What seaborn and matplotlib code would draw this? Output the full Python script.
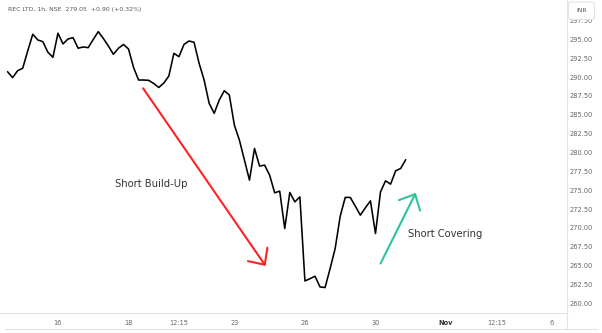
import numpy as np
import pandas as pd
import matplotlib
matplotlib.use("Agg")
import matplotlib.pyplot as plt
import seaborn as sns
from matplotlib.patches import FancyBboxPatch
from matplotlib.lines import Line2D

# ---------------- data (hourly bars, index 0 = 16 Oct 09:15) ----------------
bar_index = list(range(-10, 70))
close = [290.70, 289.91, 290.84, 291.15, 293.45, 295.66, 294.91, 294.68, 293.28, 292.61,
         295.80, 294.38, 295.04, 295.21, 293.81, 293.98, 293.89, 294.97, 296.01, 295.11,
         294.11, 293.01, 293.81, 294.31, 293.71, 291.26, 289.60, 289.60, 289.56, 289.14,
         288.61, 289.20, 290.13, 293.14, 292.69, 294.31, 294.77, 294.60, 291.82, 289.60,
         286.51, 285.19, 286.95, 288.18, 287.61, 283.63, 281.64, 278.99, 276.34, 280.54,
         278.20, 278.33, 277.00, 274.66, 274.88, 269.93, 274.71, 273.46, 274.12, 262.98,
         263.28, 263.61, 262.19, 262.11, 264.63, 267.28, 271.56, 274.05, 274.05, 272.89,
         271.70, 272.69, 273.59, 269.27, 274.79, 276.25, 275.81, 277.57, 277.89, 279.05]

xtick_pos = [0, 14, 24, 35, 49, 63, 77, 87, 98]
xtick_labels = ["16", "18", "12:15", "23", "26", "30", "Nov", "12:15", "6"]
ytick_values = [260.0, 262.5, 265.0, 267.5, 270.0, 272.5, 275.0, 277.5,
                280.0, 282.5, 285.0, 287.5, 290.0, 292.5, 295.0, 297.5]
title_text = "REC LTD, 1h, NSE  279.05  +0.90 (+0.32%)"
currency = "INR"

# annotations (bar index, price)
build_up_start = (16.9, 288.50)
build_up_tip = (41.2, 264.97)
covering_start = (64.0, 265.29)
covering_tip = (71.0, 274.66)
build_up_label = ("Short Build-Up", 11.3, 275.8)
covering_label = ("Short Covering", 69.4, 269.2)

df = pd.DataFrame({"bar": bar_index, "close": close})

# ---------------- figure ----------------
sns.set_theme(style="white")
plt.rcParams["font.family"] = ["DejaVu Sans"]

W, H = 602, 333
fig = plt.figure(figsize=(W / 100, H / 100), dpi=100)
ax_right = 567
ax_bottom = 313.3
ax = fig.add_axes([0, 1 - ax_bottom / H, ax_right / W, ax_bottom / H])

sns.lineplot(data=df, x="bar", y="close", ax=ax, color="black", linewidth=1.15)

ax.set_xlim(-11.5, 101.0)
ax.set_ylim(258.70, 300.2)
ax.set_xlabel("")
ax.set_ylabel("")

ax.yaxis.tick_right()
ax.set_yticks(ytick_values)
ax.set_yticklabels([f"{v:.2f}" for v in ytick_values])
ax.set_xticks(xtick_pos)
ax.set_xticklabels(xtick_labels)
ax.tick_params(axis="both", length=0, labelsize=4.8, colors="#666666")
ax.tick_params(axis="y", pad=2.0)
ax.tick_params(axis="x", pad=5.0)
for lab in ax.get_xticklabels():
    if lab.get_text() == "Nov":
        lab.set_fontweight("bold")
        lab.set_color("#333333")

border = "#e0e3eb"
for side in ["top", "left"]:
    ax.spines[side].set_visible(False)
for side in ["right", "bottom"]:
    ax.spines[side].set_color(border)
    ax.spines[side].set_linewidth(0.8)
ax.grid(False)

# bottom row border and right column frame
fig.add_artist(Line2D([5 / W, 597 / W], [1 - 329.3 / H, 1 - 329.3 / H], color=border, lw=0.8))
fig.add_artist(Line2D([ax_right / W, ax_right / W], [1 - 329.3 / H, 1 - ax_bottom / H], color=border, lw=0.8))

# title
fig.text(8 / W, 1 - 9 / H, title_text, fontsize=4.4, color="#555555", va="center", ha="left")

# INR box (covers most of the top tick label)
box = FancyBboxPatch((568.5 / W, 1 - 19.5 / H), 26 / W, 17.5 / H,
                     boxstyle="round,pad=0,rounding_size=0.006",
                     transform=fig.transFigure, facecolor="white", edgecolor=border, lw=0.8, zorder=10)
fig.add_artist(box)
fig.text(581.5 / W, 1 - 10 / H, currency, fontsize=4.4, color="#555555", ha="center", va="center", zorder=11)

# arrows
ax.annotate("", xy=build_up_tip, xytext=build_up_start,
            arrowprops=dict(arrowstyle="->,head_length=0.9,head_width=0.85", color="#ff2222",
                            lw=1.5, mutation_scale=10, shrinkA=0, shrinkB=0))
ax.annotate("", xy=covering_tip, xytext=covering_start,
            arrowprops=dict(arrowstyle="->,head_length=0.9,head_width=0.85", color="#2ec4a0",
                            lw=1.5, mutation_scale=10, shrinkA=0, shrinkB=0))

ax.text(build_up_label[1], build_up_label[2], build_up_label[0], fontsize=7.2, color="#333333",
        ha="left", va="center")
ax.text(covering_label[1], covering_label[2], covering_label[0], fontsize=7.2, color="#333333",
        ha="left", va="center")

fig.savefig("out.png", dpi=100, facecolor="white")
